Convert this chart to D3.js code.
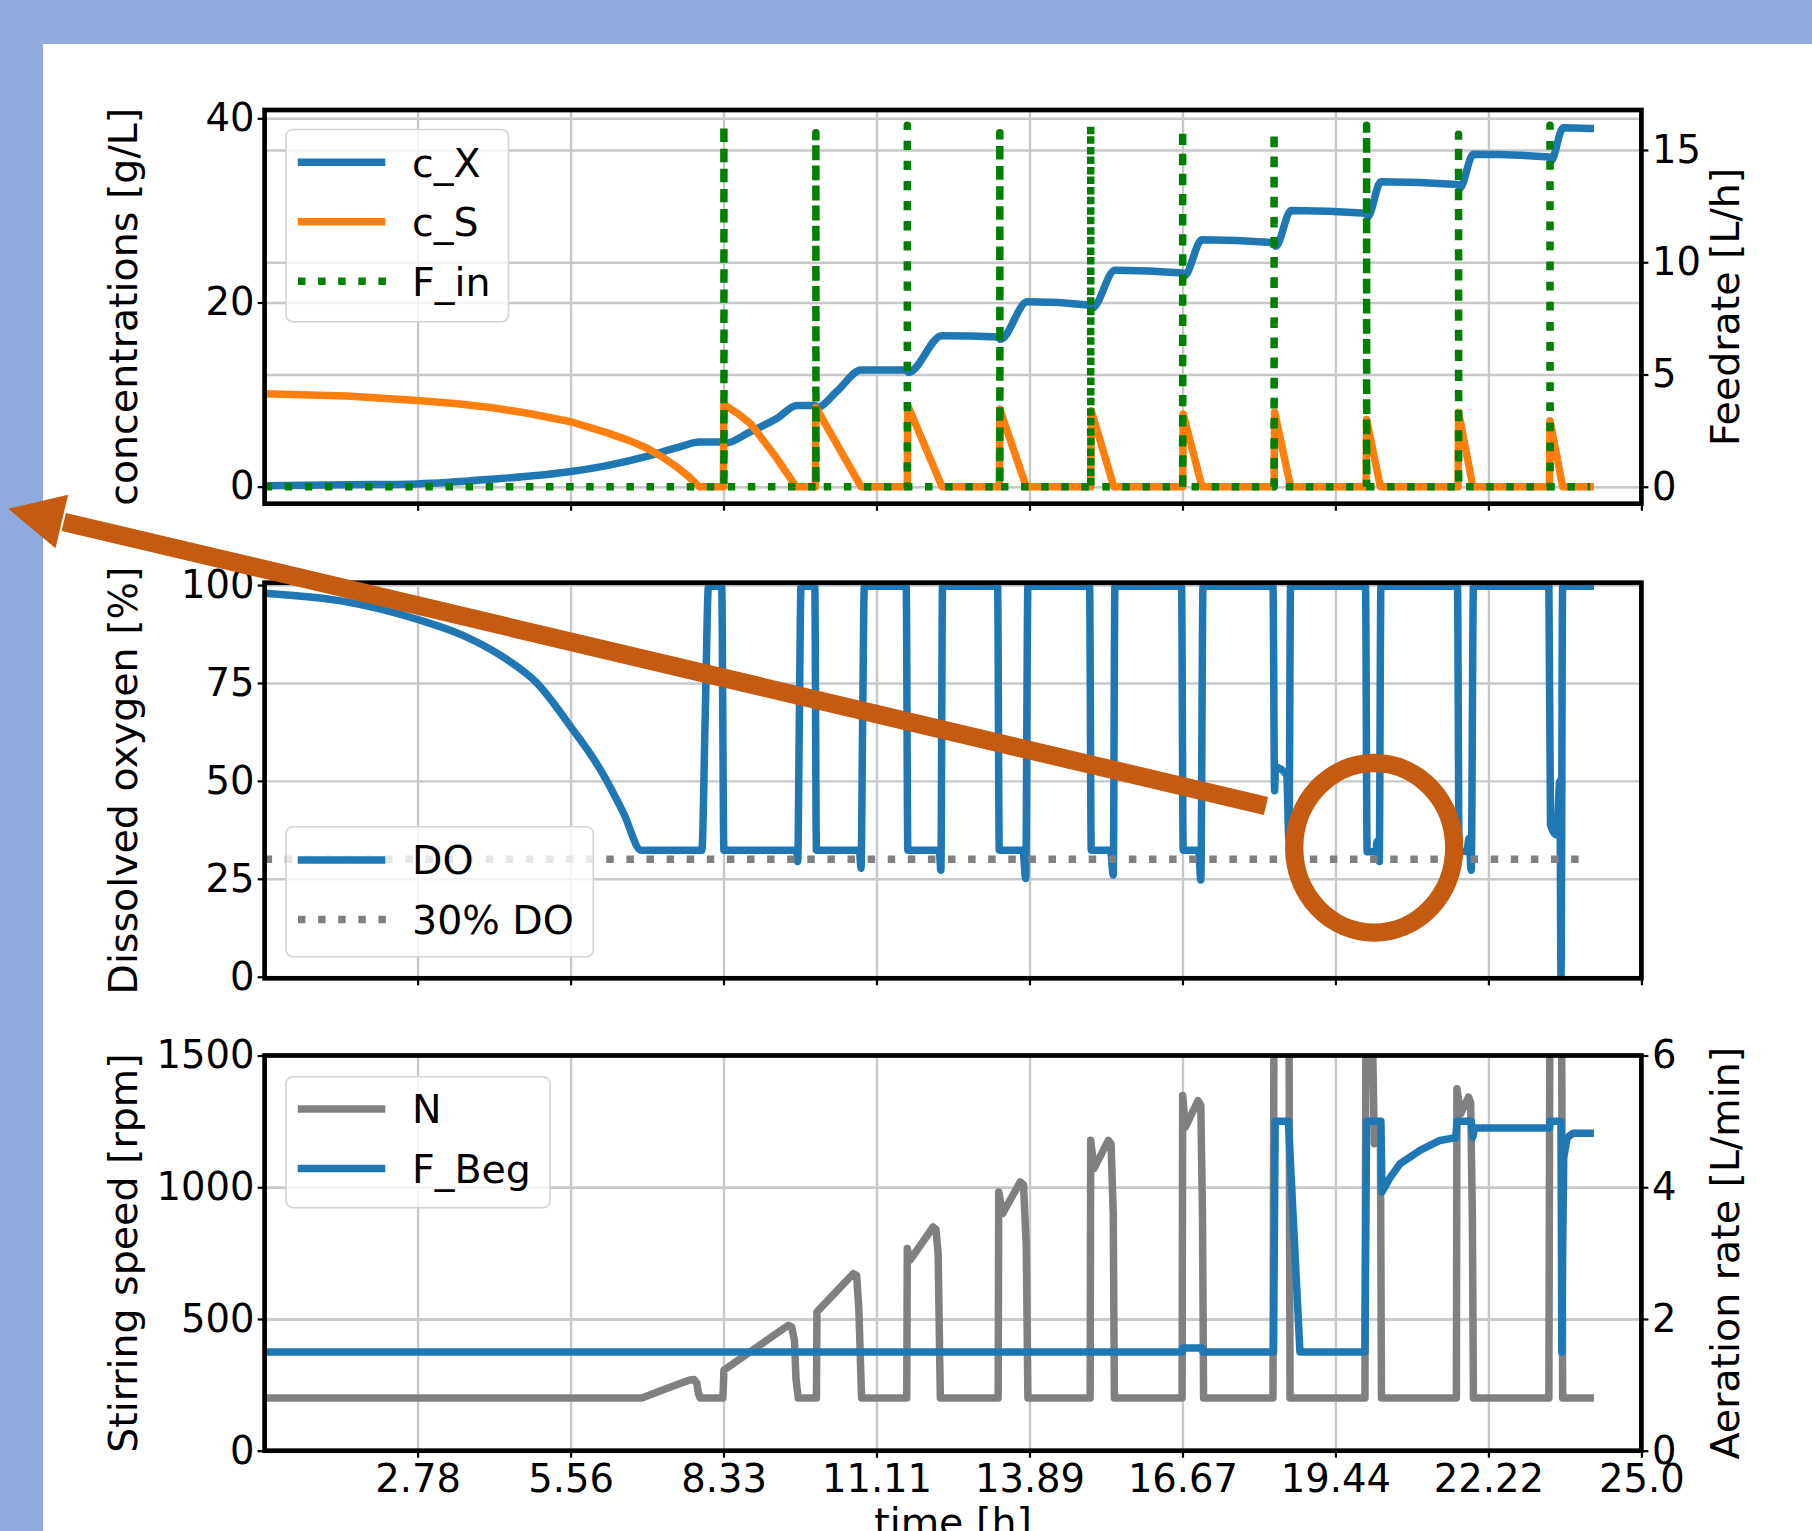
<!DOCTYPE html>
<html>
<head>
<meta charset="utf-8">
<script src="https://cdn.jsdelivr.net/npm/d3@7"></script>
<style>
  html, body { margin: 0; padding: 0; background: #8faadc; }
  svg { display: block; }
  text { font-family: "DejaVu Sans", sans-serif; fill: #000; }
</style>
</head>
<body>
<div id="chart"></div>
<script>

// Time axis ticks
var xTickValues = [2.778, 5.556, 8.333, 11.111, 13.889, 16.667, 19.444, 22.222, 25.0];
var xTickLabels = ["2.78", "5.56", "8.33", "11.11", "13.89", "16.67", "19.44", "22.22", "25.0"];

// Y ticks of each axis
var concTicks = [0, 20, 40];
var feedTicks = [0, 5, 10, 15];
var doTicks = [0, 25, 50, 75, 100];
var stirTicks = [0, 500, 1000, 1500];
var airTicks = [0, 2, 4, 6];

// Biomass c_X [g/L], pairs of [time h, value]
var cXData = [[0, 0.1], [1.5, 0.2], [2.78, 0.3], [4.11, 0.8], [5.56, 1.65], [6.3, 2.4], [6.94, 3.3],
	[7.47, 4.2], [7.9, 4.84], [8.33, 4.84], [8.36, 4.7], [8.8, 5.9], [9.3, 7.4], [9.67, 8.8],
	[10.0, 8.8], [10.03, 8.6], [10.4, 10.4], [10.83, 12.66], [11.66, 12.66], [11.69, 12.4],
	[12.3, 16.4], [13.33, 16.26], [13.36, 16.0], [13.85, 20.07], [15.0, 19.7], [15.03, 19.4],
	[15.44, 23.5], [16.67, 23.2], [16.7, 22.9], [17.02, 26.8], [18.33, 26.5], [18.36, 26.1],
	[18.64, 30.0], [20.0, 29.7], [20.03, 29.3], [20.27, 33.1], [21.67, 32.8], [21.7, 32.4],
	[21.95, 36.1], [23.33, 35.8], [23.36, 35.4], [23.58, 38.97], [24.07, 38.9]];

// Substrate c_S [g/L]
var cSData = [[0, 10.1], [1.5, 9.85], [2.78, 9.36], [3.5, 9.0], [4.11, 8.6], [4.8, 7.95],
	[5.56, 7.05], [6.21, 5.87], [6.6, 5.05], [6.94, 4.2], [7.2, 3.3], [7.47, 2.2], [7.7, 1.1],
	[7.89, 0], [8.33, 0], [8.34, 8.9], [8.6, 7.9], [8.83, 6.8], [9.25, 3.5],
	[9.65, 0], [10.0, 0], [10.01, 8.6], [10.83, 0], [11.67, 0], [11.68, 8.8], [12.3, 0],
	[13.34, 0], [13.35, 8.4], [13.83, 0], [15.0, 0], [15.01, 8.25], [15.42, 0], [16.67, 0],
	[16.68, 7.9], [17.02, 0], [18.33, 0], [18.34, 8.07], [18.63, 0], [20.0, 0], [20.01, 7.3],
	[20.26, 0], [21.67, 0], [21.68, 8.07], [21.94, 0], [23.33, 0], [23.34, 7.15], [23.57, 0],
	[24.07, 0]];

// Feed pulses F_in [L/h]
var feedTimes = [8.34, 10.01, 11.67, 13.35, 15.0, 16.67, 18.33, 20.01, 21.68, 23.34];
var feedPeaks = [16.1, 15.77, 16.1, 15.77, 16.1, 15.92, 15.81, 16.1, 15.7, 16.1];
var feedEnd = 24.07;

// Dissolved oxygen [%]
var doData = [[0, 97.9], [1.49, 95.7], [2.78, 91.2], [3.59, 87.2], [4.32, 81.7], [4.95, 74.9],
	[5.56, 63.8], [6.1, 52.8], [6.52, 41.7], [6.84, 32.3],
	[7.94, 32.3], [8.0, 66], [8.06, 99.7], [8.3, 99.7], [8.34, 32.3],
	[9.66, 32.3], [9.68, 29.4], [9.71, 66], [9.74, 99.7], [9.99, 99.7], [10.02, 32.3],
	[10.8, 32.3], [10.83, 27.7], [10.86, 66], [10.89, 99.7], [11.65, 99.7], [11.68, 32.3],
	[12.25, 32.3], [12.28, 27.2], [12.31, 99.7], [13.31, 99.7], [13.34, 32.3],
	[13.77, 32.3], [13.82, 25.1], [13.86, 99.7], [14.98, 99.7], [15.01, 32.3],
	[15.36, 32.3], [15.41, 26.0], [15.44, 99.7], [16.65, 99.7], [16.68, 32.3],
	[16.96, 32.3], [17.0, 24.7], [17.04, 99.7], [18.31, 99.7], [18.34, 47.5], [18.355, 53.5],
	[18.56, 51.5], [18.6, 35], [18.63, 99.7],
	[19.99, 99.7], [20.02, 31.9], [20.18, 31.9], [20.2, 34.5], [20.24, 29.4], [20.27, 99.7],
	[21.66, 99.7], [21.69, 32], [21.83, 32], [21.87, 35.3], [21.91, 27.2], [21.95, 99.7],
	[23.32, 99.7], [23.35, 38.7], [23.46, 36.2], [23.52, 50], [23.54, 0], [23.57, 99.7],
	[24.07, 99.7]];

// 30% DO reference
var doRefData = [[0, 30], [24.07, 30]];

// Stirring speed N [rpm]
var nData = [[0, 200], [6.85, 200], [7.3, 236], [7.72, 268], [7.8, 270], [7.85, 255], [7.88, 215],
	[7.91, 200], [8.32, 200], [8.33, 240], [8.34, 306], [9.51, 476], [9.57, 470], [9.62, 420],
	[9.65, 270], [9.69, 200],
	[10.02, 200], [10.03, 527], [10.69, 672], [10.75, 665], [10.79, 540], [10.84, 200],
	[11.66, 200], [11.67, 767], [11.72, 723], [12.14, 849], [12.19, 840], [12.23, 748], [12.27, 200],
	[13.32, 200], [13.33, 982], [13.4, 900], [13.72, 1020], [13.78, 1010], [13.83, 780], [13.86, 200],
	[14.99, 200], [15.0, 1178], [15.06, 1071], [15.32, 1178], [15.37, 1165], [15.41, 900], [15.43, 200],
	[16.66, 200], [16.67, 1348], [16.72, 1228], [16.95, 1329], [17.0, 1310], [17.03, 900], [17.05, 200],
	[18.31, 200], [18.33, 1800], [18.6, 1800], [18.62, 200],
	[19.98, 200], [20.0, 1800], [20.1, 1800], [20.15, 1165], [20.2, 1240], [20.26, 1250], [20.28, 200],
	[21.64, 200], [21.65, 1374], [21.72, 1279], [21.86, 1342], [21.9, 1320], [21.93, 900], [21.95, 200],
	[23.32, 200], [23.34, 1800], [23.55, 1800], [23.57, 200], [24.07, 200]];

// Aeration rate F_Beg [L/min]
var fBegData = [[0, 1.5], [16.66, 1.5], [16.68, 1.56], [17.02, 1.56], [17.04, 1.5], [18.32, 1.5],
	[18.35, 5.0], [18.59, 5.0], [18.8, 1.5], [19.98, 1.5], [20.01, 5.0], [20.27, 5.0], [20.29, 3.93],
	[20.44, 4.15], [20.62, 4.36], [20.98, 4.56], [21.34, 4.71], [21.6, 4.75], [21.63, 4.75],
	[21.65, 5.0], [21.91, 5.0], [21.94, 4.76], [21.97, 4.9], [23.33, 4.9], [23.34, 5.0],
	[23.54, 5.0], [23.555, 1.5], [23.57, 3.0], [23.59, 4.45], [23.65, 4.75], [23.76, 4.82],
	[24.07, 4.82]];

// Build the F_in spike series from the pulse times
var fInData = [[0, 0]];
feedTimes.forEach(function(t, i) {
	fInData.push([t, 0], [t, feedPeaks[i]], [t + 0.003, 0]);
});
fInData.push([feedEnd, 0]);

// Display sizes
var svgWidth = 1812, svgHeight = 1531;
var plotLeft = 264.6, plotRight = 1641.4;
var tickFont = 38.5, labelFont = 39.5;
var gridColor = "#c8c8c8";
var blue = "#1f77b4", orange = "#ff7f0e", green = "#008000", gray = "#808080";
var lineWidth = 7.5, dotDash = "7.5,12.6";

var svg = d3.select("#chart").append("svg")
	.attr("width", svgWidth)
	.attr("height", svgHeight);

// Slide background and white page
svg.append("rect").attr("width", svgWidth).attr("height", svgHeight).attr("fill", "#8faadc");
svg.append("rect").attr("x", 43).attr("y", 44)
	.attr("width", svgWidth - 43).attr("height", svgHeight - 44).attr("fill", "#fff");

var x = d3.scaleLinear().domain([0, 25]).range([plotLeft, plotRight]);

// Panel scales
var yConc = d3.scaleLinear().domain([-1.85, 40.9]).range([503.7, 110]);
var yFeed = d3.scaleLinear().domain([-0.755, 16.78]).range([503.7, 110]);
var yDO = d3.scaleLinear().domain([-0.4, 100.6]).range([978.3, 582.7]);
var yStir = d3.scaleLinear().domain([0, 1500]).range([1450.7, 1055.5]);
var yAir = d3.scaleLinear().domain([0, 6]).range([1450.7, 1055.5]);

var panels = [
	{
		name: "conc", top: 110, bottom: 503.7,
		left: {scale: yConc, ticks: concTicks, label: "concentrations [g/L]"},
		right: {scale: yFeed, ticks: feedTicks, label: "Feedrate [L/h]"},
		series: [
			{data: cXData, y: yConc, color: blue, smooth: true},
			{data: cSData, y: yConc, color: orange},
			{data: fInData, y: yFeed, color: green, dash: true}
		],
		xLabels: false
	},
	{
		name: "oxy", top: 582.7, bottom: 978.3,
		left: {scale: yDO, ticks: doTicks, label: "Dissolved oxygen [%]"},
		right: null,
		series: [
			{data: doData, y: yDO, color: blue, smooth: true},
			{data: doRefData, y: yDO, color: gray, dash: true}
		],
		xLabels: false
	},
	{
		name: "stir", top: 1055.5, bottom: 1450.7,
		left: {scale: yStir, ticks: stirTicks, label: "Stirring speed [rpm]"},
		right: {scale: yAir, ticks: airTicks, label: "Aeration rate [L/min]"},
		series: [
			{data: nData, y: yStir, color: gray},
			{data: fBegData, y: yAir, color: blue}
		],
		xLabels: true
	}
];

var intFormat = d3.format("d");

/**
 * Style a grid axis: thin light lines, no domain, no text.
 */
function gridStyle(g) {
	g.select(".domain").remove();
	g.selectAll(".tick text").remove();
	g.selectAll(".tick line").attr("stroke", gridColor).attr("stroke-width", 2.4);
}

/**
 * Style a tick axis: black ticks and large labels.
 */
function tickStyle(g) {
	g.select(".domain").remove();
	g.attr("font-size", tickFont).attr("font-family", "DejaVu Sans");
	g.selectAll(".tick line").attr("stroke", "#000").attr("stroke-width", 2.2);
	g.selectAll(".tick text").attr("fill", "#000");
}

/**
 * Draw one panel: grid, series, spines, ticks and axis labels.
 */
function drawPanel(p) {
	var g = svg.append("g").attr("class", "panel-" + p.name);
	var h = p.bottom - p.top;
	var w = plotRight - plotLeft;

	svg.append("clipPath").attr("id", "clip-" + p.name)
		.append("rect").attr("x", plotLeft).attr("y", p.top).attr("width", w).attr("height", h);

	// Grid lines
	g.append("g").attr("transform", "translate(0," + p.bottom + ")")
		.call(d3.axisBottom(x).tickValues(xTickValues).tickSize(-h).tickFormat(""))
		.call(gridStyle);
	g.append("g").attr("transform", "translate(" + plotLeft + ",0)")
		.call(d3.axisLeft(p.left.scale).tickValues(p.left.ticks).tickSize(-w).tickFormat(""))
		.call(gridStyle);
	if (p.right) {
		g.append("g").attr("transform", "translate(" + plotLeft + ",0)")
			.call(d3.axisLeft(p.right.scale).tickValues(p.right.ticks).tickSize(-w).tickFormat(""))
			.call(gridStyle);
	}

	// Series
	var lines = g.append("g").attr("clip-path", "url(#clip-" + p.name + ")");
	p.series.forEach(function(s) {
		var line = d3.line()
			.curve(s.smooth ? d3.curveMonotoneX : d3.curveLinear)
			.x(function(d) { return x(d[0]); })
			.y(function(d) { return s.y(d[1]); });
		lines.append("path")
			.datum(s.data)
			.attr("d", line)
			.attr("fill", "none")
			.attr("stroke", s.color)
			.attr("stroke-width", lineWidth)
			.attr("stroke-dasharray", s.dash ? dotDash : null)
			.attr("stroke-linejoin", "round")
			.attr("stroke-linecap", s.dash ? "butt" : "square");
	});

	// Spines
	g.append("rect")
		.attr("x", plotLeft).attr("y", p.top).attr("width", w).attr("height", h)
		.attr("fill", "none").attr("stroke", "#000").attr("stroke-width", 4.7);

	// Tick marks and labels
	g.append("g").attr("transform", "translate(0," + p.bottom + ")")
		.call(d3.axisBottom(x).tickValues(xTickValues).tickSize(7).tickPadding(6.5)
			.tickFormat(function(d, i) { return p.xLabels ? xTickLabels[i] : ""; }))
		.call(tickStyle);
	g.append("g").attr("transform", "translate(" + plotLeft + ",0)")
		.call(d3.axisLeft(p.left.scale).tickValues(p.left.ticks).tickSize(7).tickPadding(3)
			.tickFormat(intFormat))
		.call(tickStyle);
	g.append("text")
		.attr("transform", "translate(136.5," + (p.top + h / 2) + ") rotate(-90)")
		.attr("text-anchor", "middle")
		.attr("font-size", labelFont)
		.text(p.left.label);

	if (p.right) {
		g.append("g").attr("transform", "translate(" + plotRight + ",0)")
			.call(d3.axisRight(p.right.scale).tickValues(p.right.ticks).tickSize(7).tickPadding(3.5)
				.tickFormat(intFormat))
			.call(tickStyle);
		g.append("text")
			.attr("transform", "translate(1739," + (p.top + h / 2) + ") rotate(-90)")
			.attr("text-anchor", "middle")
			.attr("font-size", labelFont)
			.text(p.right.label);
	}
}

panels.forEach(drawPanel);

// Time label, partly cut by the page edge
svg.append("text")
	.attr("x", x(12.5)).attr("y", 1536)
	.attr("text-anchor", "middle")
	.attr("font-size", labelFont)
	.text("time [h]");

/**
 * Draw a legend box with line handles.
 */
function drawLegend(box, entries) {
	var g = svg.append("g");
	g.append("rect")
		.attr("x", box.x).attr("y", box.y).attr("width", box.w).attr("height", box.h)
		.attr("rx", 7)
		.attr("fill", "#fff").attr("fill-opacity", 0.8)
		.attr("stroke", "#d4d4d4").attr("stroke-width", 1.6);
	entries.forEach(function(e, i) {
		var cy = box.first + i * 59.5;
		g.append("line")
			.attr("x1", e.dash ? 298 : 301.5).attr("x2", e.dash ? 386 : 381.5)
			.attr("y1", cy).attr("y2", cy)
			.attr("stroke", e.color)
			.attr("stroke-width", lineWidth)
			.attr("stroke-dasharray", e.dash ? dotDash : null)
			.attr("stroke-linecap", e.dash ? "butt" : "square");
		g.append("text")
			.attr("x", 412).attr("y", cy).attr("dy", "0.36em")
			.attr("font-size", labelFont)
			.text(e.label);
	});
}

drawLegend({x: 286, y: 129.5, w: 222.5, h: 192.3, first: 162.3}, [
	{label: "c_X", color: blue},
	{label: "c_S", color: orange},
	{label: "F_in", color: green, dash: true}
]);
drawLegend({x: 286, y: 826.7, w: 307.3, h: 130, first: 860}, [
	{label: "DO", color: blue},
	{label: "30% DO", color: gray, dash: true}
]);
drawLegend({x: 286, y: 1076.7, w: 264, h: 131, first: 1109}, [
	{label: "N", color: gray},
	{label: "F_Beg", color: blue}
]);

// Slide annotation: arrow and ellipse
var annColor = "#c55a11";
var tip = [8.3, 508.8], tail = [1266, 806];
var len = Math.hypot(tail[0] - tip[0], tail[1] - tip[1]);
var ux = (tail[0] - tip[0]) / len, uy = (tail[1] - tip[1]) / len;
var headLen = 55, headHalf = 27.5;
var base = [tip[0] + ux * headLen, tip[1] + uy * headLen];

var ann = svg.append("g");
ann.append("line")
	.attr("x1", base[0] + ux * 2).attr("y1", base[1] + uy * 2)
	.attr("x2", tail[0]).attr("y2", tail[1])
	.attr("stroke", annColor).attr("stroke-width", 18.5).attr("stroke-linecap", "butt");
ann.append("path")
	.attr("d", "M" + tip[0] + "," + tip[1] +
		"L" + (base[0] - uy * headHalf) + "," + (base[1] + ux * headHalf) +
		"L" + (base[0] + uy * headHalf) + "," + (base[1] - ux * headHalf) + "Z")
	.attr("fill", annColor);
ann.append("ellipse")
	.attr("cx", 1374.2).attr("cy", 847.8).attr("rx", 80).attr("ry", 84.8)
	.attr("fill", "none").attr("stroke", annColor).attr("stroke-width", 18.3);

</script>
</body>
</html>
